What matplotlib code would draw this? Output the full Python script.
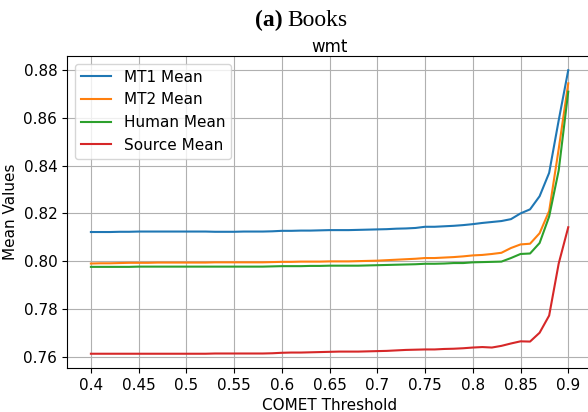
import numpy as np
import matplotlib.pyplot as plt

thresholds = [round(0.40 + 0.01 * i, 2) for i in range(51)]

mt1_mean = [0.8122, 0.8122, 0.8122, 0.8123, 0.8123, 0.8124, 0.8124, 0.8124, 0.8124, 0.8124,
            0.8124, 0.8124, 0.8124, 0.8123, 0.8123, 0.8123, 0.8124, 0.8124, 0.8124, 0.8125,
            0.8127, 0.8127, 0.8128, 0.8128, 0.8129, 0.8130, 0.8130, 0.8130, 0.8131, 0.8132,
            0.8133, 0.8134, 0.8136, 0.8137, 0.8139, 0.8144, 0.8144, 0.8146, 0.8148, 0.8151,
            0.8155, 0.8160, 0.8164, 0.8168, 0.8176, 0.8200, 0.8217, 0.8272, 0.8370, 0.8590,
            0.8800]
mt2_mean = [0.7990, 0.7991, 0.7991, 0.7992, 0.7993, 0.7993, 0.7993, 0.7994, 0.7994, 0.7994,
            0.7994, 0.7994, 0.7994, 0.7995, 0.7995, 0.7995, 0.7995, 0.7995, 0.7995, 0.7996,
            0.7997, 0.7997, 0.7998, 0.7998, 0.7998, 0.7999, 0.7999, 0.7999, 0.8000, 0.8001,
            0.8002, 0.8004, 0.8006, 0.8008, 0.8010, 0.8013, 0.8013, 0.8015, 0.8017, 0.8020,
            0.8024, 0.8026, 0.8030, 0.8035, 0.8055, 0.8070, 0.8073, 0.8117, 0.8210, 0.8470,
            0.8745]
human_mean = [0.7976, 0.7976, 0.7976, 0.7976, 0.7976, 0.7977, 0.7977, 0.7977, 0.7977, 0.7977,
              0.7977, 0.7977, 0.7977, 0.7977, 0.7977, 0.7977, 0.7977, 0.7977, 0.7977, 0.7978,
              0.7979, 0.7979, 0.7979, 0.7980, 0.7980, 0.7981, 0.7981, 0.7981, 0.7981, 0.7982,
              0.7983, 0.7984, 0.7985, 0.7986, 0.7987, 0.7989, 0.7989, 0.7990, 0.7992, 0.7992,
              0.7995, 0.7996, 0.7997, 0.7998, 0.8013, 0.8030, 0.8032, 0.8076, 0.8187, 0.8380,
              0.8710]
source_mean = [0.7612, 0.7612, 0.7612, 0.7612, 0.7612, 0.7612, 0.7612, 0.7612, 0.7612, 0.7612,
               0.7612, 0.7612, 0.7612, 0.7613, 0.7613, 0.7613, 0.7613, 0.7613, 0.7613, 0.7614,
               0.7616, 0.7617, 0.7617, 0.7618, 0.7619, 0.7620, 0.7621, 0.7621, 0.7621, 0.7622,
               0.7623, 0.7624, 0.7626, 0.7628, 0.7629, 0.7630, 0.7630, 0.7632, 0.7633, 0.7635,
               0.7638, 0.7640, 0.7638, 0.7645, 0.7655, 0.7664, 0.7663, 0.7700, 0.7772, 0.7990,
               0.8142]

xtick_vals = [0.4, 0.45, 0.5, 0.55, 0.6, 0.65, 0.7, 0.75, 0.8, 0.85, 0.9]
xtick_labels = ['0.4', '0.45', '0.5', '0.55', '0.6', '0.65', '0.7', '0.75', '0.8', '0.85', '0.9']
ytick_vals = [0.76, 0.78, 0.80, 0.82, 0.84, 0.86, 0.88]

fig = plt.figure(figsize=(5.88, 4.12), dpi=100)
ax = fig.add_axes([0.114, 0.107, 0.893, 0.757])

ax.plot(thresholds, mt1_mean, label='MT1 Mean')
ax.plot(thresholds, mt2_mean, label='MT2 Mean')
ax.plot(thresholds, human_mean, label='Human Mean')
ax.plot(thresholds, source_mean, label='Source Mean')

ax.set_xticks(xtick_vals)
ax.set_xticklabels(xtick_labels)
ax.set_yticks(ytick_vals)
ax.set_yticklabels(['%.2f' % v for v in ytick_vals])
ax.tick_params(labelsize=11)
ax.set_xlabel('COMET Threshold', fontsize=11)
ax.set_ylabel('Mean Values', fontsize=11)
ax.set_title('wmt', fontsize=12, pad=3)
ax.grid(True)
ax.legend(loc='upper left', fontsize=11)

# caption above the plot
fig.text(0.4813, 0.936, '(a)', fontsize=17, fontweight='bold', family='Liberation Serif', ha='right', va='baseline')
fig.text(0.4881, 0.936, 'Books', fontsize=17, family='Liberation Serif', ha='left', va='baseline')

fig.savefig('out.png', dpi=100)
